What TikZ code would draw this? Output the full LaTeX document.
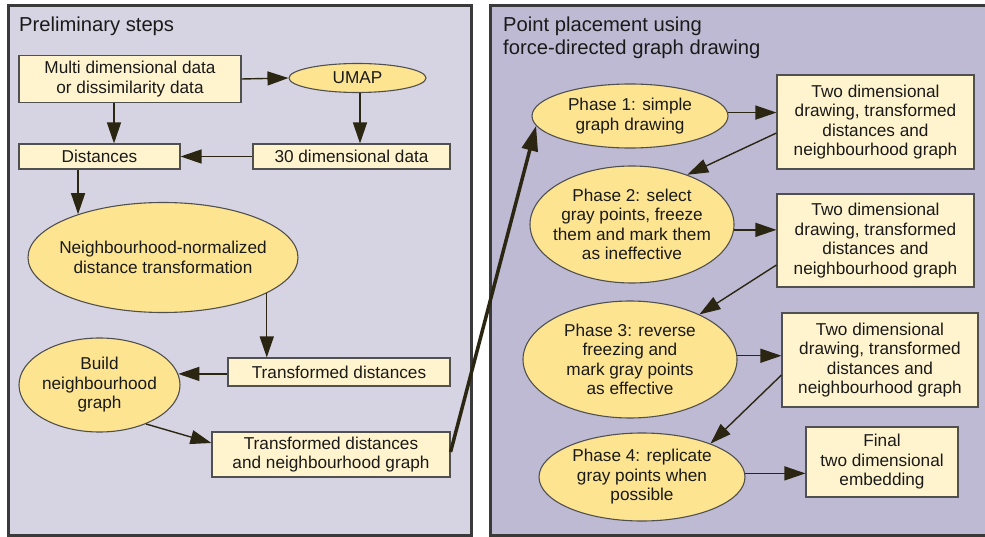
\documentclass[tikz,border=0pt]{standalone}
\usepackage{fontspec}
\setmainfont{Liberation Sans}
\usetikzlibrary{shapes.geometric,arrows.meta,calc}

\definecolor{leftbg}{HTML}{D6D4E2}
\definecolor{rightbg}{HTML}{BEBAD3}
\definecolor{panelline}{HTML}{3A3A3A}
\definecolor{boxfill}{HTML}{FFF4CE}
\definecolor{ovalfill}{HTML}{FDE491}
\definecolor{edge}{HTML}{505050}
\definecolor{arrowc}{HTML}{2B2612}
\definecolor{txt}{HTML}{1A1A1A}

\begin{document}
\begin{tikzpicture}[x=1pt,y=-1pt,
  every node/.style={font=\fontsize{17.2}{19.5}\selectfont, text=txt},
  panel/.style={draw=panelline, line width=3pt},
  paneltitle/.style={font=\fontsize{20.2}{23}\selectfont, align=left, inner sep=0pt, anchor=west},
  box/.style={draw=edge, line width=1.1pt, fill=boxfill, inner sep=0pt, align=center},
  oval/.style={draw=edge, line width=1.1pt, fill=ovalfill, ellipse, inner sep=0pt},
  lbl/.style={align=center, inner sep=0pt},
  arr/.style={draw=arrowc, line width=1.4pt, -{Triangle[length=21pt,width=14pt]}},
  bigarr/.style={draw=arrowc, line width=3.5pt, -{Triangle[length=25pt,width=16pt]}}
]
\useasboundingbox (0,0) rectangle (985,537);
\clip (0,0) rectangle (985,537);

% panels
\draw[panel, fill=leftbg] (8,5.5) rectangle (471,535);
\draw[panel, fill=rightbg] (490.5,5.5) rectangle (1000,535);
\node[paneltitle] (ttl1) at (19,26) {Preliminary steps};
\node[paneltitle] (ttl2) at (503,38) {Point placement using\\force-directed graph drawing};

% preliminary steps
\node[box, minimum width=222pt, minimum height=47pt] (multi) at (130,79) {Multi dimensional data\\or dissimilarity data};
\node[oval, minimum width=137pt, minimum height=29pt] (umap) at (357.5,78) {};
\node[lbl] (umapt) at (umap) {UMAP};
\node[box, minimum width=161pt, minimum height=25pt] (dist) at (99.5,156.5) {Distances};
\node[box, minimum width=197pt, minimum height=25pt] (t30) at (351.5,156.5) {30 dimensional data};
\node[oval, minimum width=270pt, minimum height=110pt] (nndt) at (163,257.5) {};
\node[lbl] (nndtt) at (nndt) {Neighbourhood-normalized\\distance transformation};
\node[box, minimum width=222pt, minimum height=28pt] (trd) at (339,372) {Transformed distances};
\node[oval, minimum width=161pt, minimum height=94pt] (build) at (99.5,385) {};
\node[lbl] (buildt) at (build) {Build\\neighbourhood\\graph};
\node[box, minimum width=238pt, minimum height=45pt] (tdng) at (331,454.5) {Transformed distances\\and neighbourhood graph};

% force-directed placement
\node[oval, minimum width=196pt, minimum height=64pt] (p1) at (630,116) {};
\node[lbl] (p1t) at (p1) {Phase 1: simple\\graph drawing};
\node[box, minimum width=197pt, minimum height=94pt] (b1) at (875.5,122) {Two dimensional\\drawing, transformed\\distances and\\neighbourhood graph};
\node[oval, minimum width=204pt, minimum height=117pt] (p2) at (632,224.5) {};
\node[lbl] (p2t) at (p2) {Phase 2: select\\gray points, freeze\\them and mark them\\as ineffective};
\node[box, minimum width=197pt, minimum height=93pt] (b2) at (875.5,240.5) {Two dimensional\\drawing, transformed\\distances and\\neighbourhood graph};
\node[oval, minimum width=214pt, minimum height=117pt] (p3) at (630,359.5) {};
\node[lbl] (p3t) at (p3) {Phase 3: reverse\\freezing and\\mark gray points\\as effective};
\node[box, minimum width=196pt, minimum height=94pt] (b3) at (880,360) {Two dimensional\\drawing, transformed\\distances and\\neighbourhood graph};
\node[oval, minimum width=206pt, minimum height=88pt] (p4) at (642,477) {};
\node[lbl] (p4t) at (p4) {Phase 4: replicate\\gray points when\\possible};
\node[box, minimum width=152pt, minimum height=70pt] (fin) at (882,462) {Final\\two dimensional\\embedding};

% connectors, preliminary steps
\draw[arr] (multi.east) -- (umap.west);
\draw[arr] ([xshift=-16pt]multi.south) -- ([xshift=-16pt]multi.south |- dist.north);
\draw[arr] ([xshift=2.5pt]umap.south) -- ([xshift=2.5pt]umap.south |- t30.north);
\draw[arr] (t30.west) -- (dist.east);
\draw[arr] (nndt.153.7 |- dist.south) -- (nndt.153.7);
\draw[arr] (nndt.-19) -- (nndt.-19 |- trd.north);
\draw[arr] (build.8 -| trd.west) -- (build.8);
\draw[arr] (build.-40) -- ([yshift=11.5pt]tdng.west);

% connector between the panels
\draw[bigarr] ([yshift=2.5pt]tdng.east) -- (p1.186);

% connectors, phases
\draw[arr] (p1.2.4) -- (p1.2.4 -| b1.west);
\draw[arr] ([yshift=-11pt]b1.west) -- (p2.42.2);
\draw[arr] (p2.-3.1) -- (p2.-3.1 -| b2.west);
\draw[arr] ([yshift=-24.5pt]b2.west) -- (p3.33.4);
\draw[arr] (p3.2.9) -- (p3.2.9 -| b3.west);
\draw[arr] ([yshift=-15pt]b3.west) -- (p4.26.2);
\draw[arr] (p4.2.8) -- (p4.2.8 -| fin.west);
\end{tikzpicture}
\end{document}
